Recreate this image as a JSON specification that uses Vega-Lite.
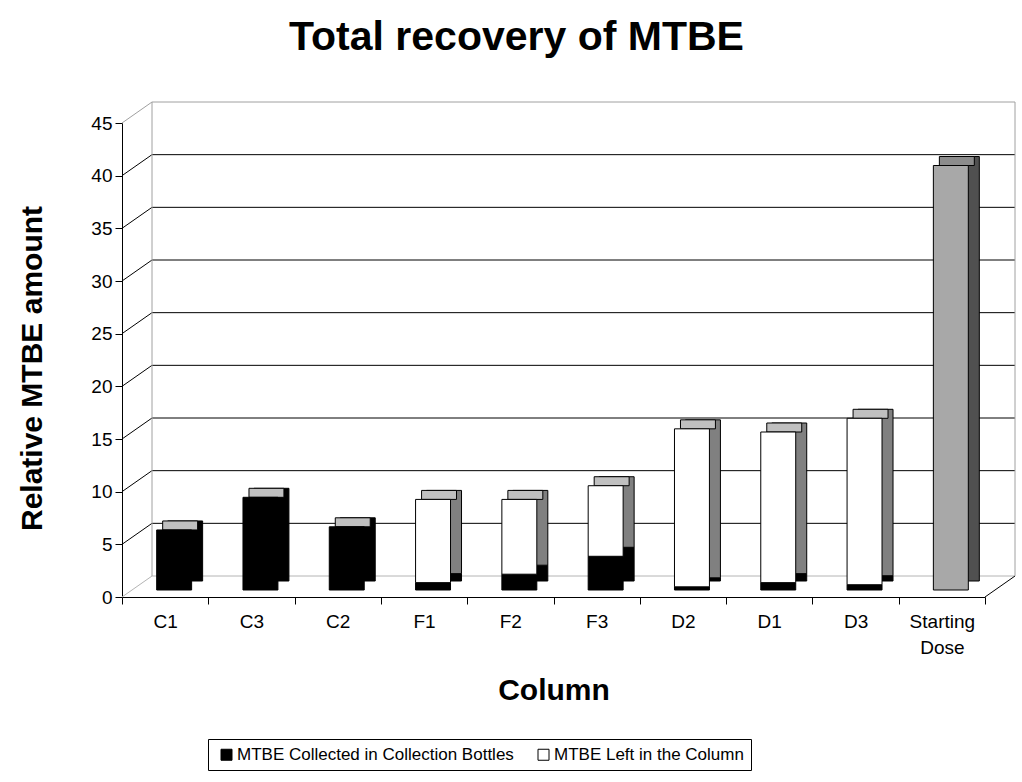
{
  "$schema": "https://vega.github.io/schema/vega-lite/v6.json",
  "autosize": "none",
  "width": 863,
  "height": 474,
  "padding": {"left": 122, "top": 123, "right": 37, "bottom": 185},
  "background": "white",
  "title": {
    "text": "Total recovery of MTBE",
    "font": "Liberation Sans",
    "fontSize": 41,
    "fontWeight": "bold",
    "color": "black",
    "anchor": "middle",
    "dx": -37,
    "offset": 43
  },
  "datasets": {
    "recovery": [
      {"column": "C1", "series": "MTBE Collected in Collection Bottles", "amount": 5.7},
      {"column": "C3", "series": "MTBE Collected in Collection Bottles", "amount": 8.8},
      {"column": "C2", "series": "MTBE Collected in Collection Bottles", "amount": 6.0},
      {"column": "F1", "series": "MTBE Collected in Collection Bottles", "amount": 0.7},
      {"column": "F1", "series": "MTBE Left in the Column", "amount": 7.9},
      {"column": "F2", "series": "MTBE Collected in Collection Bottles", "amount": 1.5},
      {"column": "F2", "series": "MTBE Left in the Column", "amount": 7.1},
      {"column": "F3", "series": "MTBE Collected in Collection Bottles", "amount": 3.2},
      {"column": "F3", "series": "MTBE Left in the Column", "amount": 6.7},
      {"column": "D2", "series": "MTBE Collected in Collection Bottles", "amount": 0.3},
      {"column": "D2", "series": "MTBE Left in the Column", "amount": 15.0},
      {"column": "D1", "series": "MTBE Collected in Collection Bottles", "amount": 0.7},
      {"column": "D1", "series": "MTBE Left in the Column", "amount": 14.3},
      {"column": "D3", "series": "MTBE Collected in Collection Bottles", "amount": 0.5},
      {"column": "D3", "series": "MTBE Left in the Column", "amount": 15.8},
      {"column": "Starting Dose", "series": "MTBE Left in the Column", "amount": 40.3}
    ],
    "gridlines": [
      {"v": 0}, {"v": 5}, {"v": 10}, {"v": 15}, {"v": 20},
      {"v": 25}, {"v": 30}, {"v": 35}, {"v": 40}, {"v": 45}
    ]
  },
  "encoding": {
    "x": {
      "field": "column",
      "type": "nominal",
      "scale": {
        "domain": ["C1", "C3", "C2", "F1", "F2", "F3", "D2", "D1", "D3", "Starting Dose"],
        "paddingInner": 0,
        "paddingOuter": 0
      },
      "axis": {
        "title": "Column",
        "labelExpr": "split(datum.label, ' ')"
      }
    },
    "y": {
      "type": "quantitative",
      "scale": {"domain": [0, 45], "nice": false, "zero": true},
      "axis": {
        "title": "Relative MTBE amount",
        "values": [0, 5, 10, 15, 20, 25, 30, 35, 40, 45]
      }
    }
  },
  "layer": [
    {
      "description": "Back-wall gridlines, pushed back and up for depth",
      "data": {"name": "gridlines"},
      "mark": {"type": "rule", "xOffset": 30, "x2Offset": 30, "yOffset": -21, "strokeWidth": 1},
      "encoding": {
        "x": {"datum": "C1", "bandPosition": 0},
        "x2": {"datum": "Starting Dose", "bandPosition": 1},
        "y": {"field": "v", "type": "quantitative"},
        "color": {
          "condition": [
            {"test": "datum.v === 0", "value": "#b4b4b4"},
            {"test": "datum.v === 45", "value": "#a0a0a0"}
          ],
          "value": "black"
        }
      }
    },
    {
      "description": "Side-wall connectors from the front axis ticks to the back wall",
      "data": {"name": "gridlines"},
      "mark": {"type": "rule", "x2Offset": 30, "y2Offset": -21, "strokeWidth": 1},
      "encoding": {
        "x": {"datum": "C1", "bandPosition": 0},
        "x2": {"datum": "C1", "bandPosition": 0},
        "y": {"field": "v", "type": "quantitative"},
        "y2": {"field": "v"},
        "color": {
          "condition": [
            {"test": "datum.v === 0", "value": "#b4b4b4"},
            {"test": "datum.v === 45", "value": "#a0a0a0"}
          ],
          "value": "black"
        }
      }
    },
    {
      "description": "Floor edge on the right",
      "data": {"name": "gridlines"},
      "transform": [{"filter": "datum.v === 0"}],
      "mark": {"type": "rule", "x2Offset": 30, "y2Offset": -21, "strokeWidth": 1, "color": "black"},
      "encoding": {
        "x": {"datum": "Starting Dose", "bandPosition": 1},
        "x2": {"datum": "Starting Dose", "bandPosition": 1},
        "y": {"field": "v", "type": "quantitative"},
        "y2": {"field": "v"}
      }
    },
    {
      "description": "Left vertical edge of the back wall",
      "data": {"name": "gridlines"},
      "transform": [{"filter": "datum.v === 0"}],
      "mark": {"type": "rule", "xOffset": 30, "yOffset": -21, "y2Offset": -21, "strokeWidth": 1, "color": "#a0a0a0"},
      "encoding": {
        "x": {"datum": "C1", "bandPosition": 0},
        "y": {"field": "v", "type": "quantitative"},
        "y2": {"datum": 45}
      }
    },
    {
      "description": "Right vertical edge of the back wall",
      "data": {"name": "gridlines"},
      "transform": [{"filter": "datum.v === 0"}],
      "mark": {"type": "rule", "xOffset": 30, "yOffset": -21, "y2Offset": -21, "strokeWidth": 1, "color": "#a0a0a0"},
      "encoding": {
        "x": {"datum": "Starting Dose", "bandPosition": 1},
        "y": {"field": "v", "type": "quantitative"},
        "y2": {"datum": 45}
      }
    },
    {
      "description": "Bar depth (side faces)",
      "data": {"name": "recovery"},
      "transform": [
        {"stack": "amount", "groupby": ["column"], "sort": [{"field": "series"}], "as": ["y0", "y1"]}
      ],
      "mark": {"type": "bar", "width": {"band": 0.405}, "xOffset": 20, "yOffset": -16, "y2Offset": -16, "stroke": "black", "strokeWidth": 1},
      "encoding": {
        "y": {"field": "y1", "type": "quantitative"},
        "y2": {"field": "y0"},
        "fill": {
          "condition": [
            {"test": "datum.column === 'Starting Dose'", "value": "#505050"},
            {"test": "datum.series === 'MTBE Left in the Column'", "value": "#808080"}
          ],
          "value": "black"
        }
      }
    },
    {
      "description": "Bar top faces",
      "data": {"name": "recovery"},
      "transform": [
        {"stack": "amount", "groupby": ["column"], "sort": [{"field": "series"}], "as": ["y0", "y1"]},
        {"joinaggregate": [{"op": "sum", "field": "amount", "as": "total"}], "groupby": ["column"]},
        {"filter": "abs(datum.y1 - datum.total) < 1e-9"}
      ],
      "mark": {"type": "bar", "width": {"band": 0.405}, "xOffset": 15, "yOffset": -16, "y2Offset": -7, "stroke": "black", "strokeWidth": 1},
      "encoding": {
        "y": {"field": "y1", "type": "quantitative"},
        "y2": {"field": "y1"},
        "fill": {
          "condition": {"test": "datum.column === 'Starting Dose'", "value": "#8c8c8c"},
          "value": "#c0c0c0"
        }
      }
    },
    {
      "description": "Bar front faces",
      "data": {"name": "recovery"},
      "transform": [
        {"stack": "amount", "groupby": ["column"], "sort": [{"field": "series"}], "as": ["y0", "y1"]}
      ],
      "mark": {"type": "bar", "width": {"band": 0.405}, "xOffset": 9, "yOffset": -7, "y2Offset": -7, "stroke": "black", "strokeWidth": 1},
      "encoding": {
        "y": {"field": "y1", "type": "quantitative"},
        "y2": {"field": "y0"},
        "fill": {
          "field": "series",
          "type": "nominal",
          "scale": {
            "domain": ["MTBE Collected in Collection Bottles", "MTBE Left in the Column"],
            "range": ["black", "white"]
          },
          "condition": {"test": "datum.column === 'Starting Dose'", "value": "#a8a8a8"},
          "legend": {
            "title": null,
            "orient": "none",
            "legendX": 86,
            "legendY": 616,
            "direction": "horizontal",
            "columnPadding": 18,
            "padding": 7,
            "strokeColor": "black",
            "fillColor": "white",
            "symbolType": "square",
            "symbolSize": 121,
            "symbolStrokeColor": "black",
            "symbolStrokeWidth": 1,
            "symbolOffset": 3,
            "labelFont": "Liberation Sans",
            "labelFontSize": 17,
            "labelColor": "black",
            "labelOffset": 2,
            "labelLimit": 0
          }
        }
      }
    }
  ],
  "config": {
    "font": "Liberation Sans",
    "view": {"stroke": null},
    "axis": {
      "labelFont": "Liberation Sans",
      "labelFontSize": 19,
      "labelColor": "black",
      "titleFont": "Liberation Sans",
      "titleFontSize": 30,
      "titleFontWeight": "bold",
      "titleColor": "black",
      "domainColor": "black",
      "domainWidth": 1,
      "tickColor": "black",
      "tickSize": 7,
      "grid": false
    },
    "axisX": {
      "labelAngle": 0,
      "labelPadding": 8,
      "labelLineHeight": 26,
      "tickBand": "extent",
      "titleY": 93,
      "titleBaseline": "middle"
    },
    "axisY": {
      "labelPadding": 3,
      "titleAngle": -90,
      "titleX": -90,
      "titleY": 245,
      "titleAlign": "center",
      "titleBaseline": "middle"
    }
  }
}
